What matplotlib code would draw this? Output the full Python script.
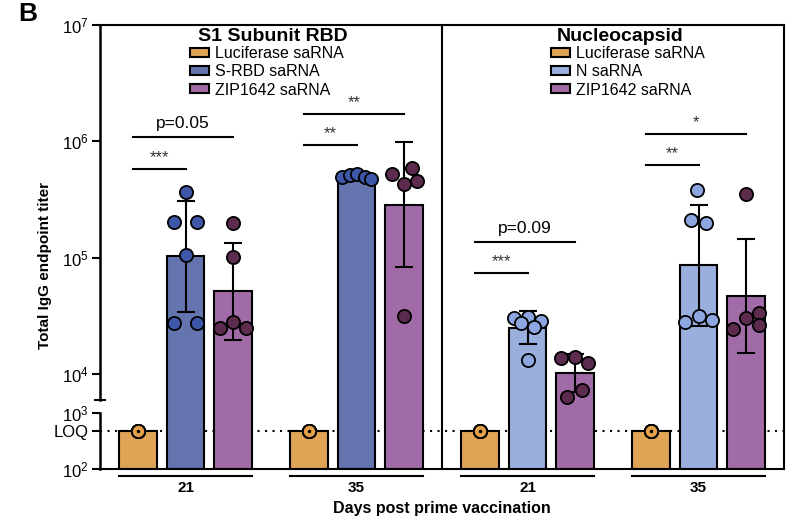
import numpy as np
import matplotlib.pyplot as plt
from matplotlib.patches import Patch
from matplotlib.transforms import blended_transform_factory

plt.rcParams['font.family'] = ['Liberation Sans', 'DejaVu Sans']
plt.rcParams['mathtext.fontset'] = 'custom'
plt.rcParams['mathtext.rm'] = 'Liberation Sans'
plt.rcParams['mathtext.it'] = 'Liberation Sans:italic'
plt.rcParams['mathtext.bf'] = 'Liberation Sans:bold'

# ---- data ----
days = ['21', '35']
loq = 480

s1_title = 'S1 Subunit RBD'
s1_labels = ['Luciferase saRNA', 'S-RBD saRNA', 'ZIP1642 saRNA']
n_title = 'Nucleocapsid'
n_labels = ['Luciferase saRNA', 'N saRNA', 'ZIP1642 saRNA']

# individual animal titers, [day21, day35] for each group
s1_luc = [[loq] * 5, [loq] * 5]
s1_rbd = [[3.67e5, 2.03e5, 2.03e5, 1.05e5, 2.74e4, 2.74e4],
          [4.9e5, 5.1e5, 5.2e5, 4.9e5, 4.7e5]]
s1_zip = [[1.99e5, 1.01e5, 2.5e4, 2.8e4, 2.5e4],
          [5.2e5, 5.9e5, 4.6e5, 4.3e5, 3.15e4]]

n_luc = [[loq] * 5, [loq] * 5]
n_n = [[3.03e4, 3.09e4, 2.86e4, 2.74e4, 2.53e4, 1.32e4],
       [3.8e5, 2.1e5, 2.0e5, 2.8e4, 3.16e4, 2.9e4]]
n_zip = [[1.37e4, 1.4e4, 1.24e4, 6.3e3, 7.3e3],
         [3.5e5, 2.44e4, 3.03e4, 3.34e4, 2.64e4]]

# horizontal jitter of the dots (fraction of bar spacing)
s1_jit = [[[0] * 5, [0] * 5],
          [[0, -0.25, 0.25, 0, -0.25, 0.25], [-0.3, -0.14, 0.02, 0.17, 0.3]],
          [[0, 0, -0.28, 0, 0.28], [-0.26, 0.16, 0.28, 0, 0]]]
n_jit = [[[0] * 5, [0] * 5],
         [[-0.28, 0, 0.28, -0.14, 0.14, 0], [-0.04, -0.15, 0.15, -0.28, 0, 0.28]],
         [[-0.3, 0, 0.28, -0.16, 0.14], [0, -0.28, 0, 0.28, 0.28]]]

# significance brackets: (day index, target group, height, label)
s1_sig = [(0, 1, 5.8e5, '***'), (0, 2, 1.09e6, 'p=0.05'),
          (1, 1, 9.3e5, '**'), (1, 2, 1.72e6, '**')]
n_sig = [(0, 1, 7.4e4, '***'), (0, 2, 1.36e5, 'p=0.09'),
         (1, 1, 6.3e5, '**'), (1, 2, 1.16e6, '*')]

# colours
luc_bar, luc_dot = '#DFA455', '#E2A14A'
rbd_bar, rbd_dot = '#6474AE', '#3E57A8'
zip_bar, zip_dot = '#A06BA6', '#5C2B4E'
n_bar, n_dot = '#9AAFDD', '#8DA6DF'

# ---- broken log axis: piecewise linear in log10 ----
LOG_K = [-10, 2, 3, 3.7765, 7, 20]
U_K = [-12 * 56, 0, 56, 69, 444, 444 + 13 * 116.33]


def fwd(y):
    y = np.asarray(y, dtype=float)
    with np.errstate(divide='ignore', invalid='ignore'):
        ly = np.log10(np.where(y > 0, y, 1e-10))
    return np.interp(ly, LOG_K, U_K)


def inv(u):
    return 10 ** np.interp(np.asarray(u, dtype=float), U_K, LOG_K)


fig = plt.figure(figsize=(8, 5.25), dpi=100)
ax = fig.add_axes([0.125, 0.1067, 0.855, 0.8457])
ax.set_yscale('function', functions=(fwd, inv))
ax.set_ylim(100, 1e7)
ax.set_xlim(-1.8, 12.6)

group_x = [0, 3.6, 7.2, 10.8]
width = 0.78

panels = [
    (s1_luc, s1_rbd, s1_zip, s1_jit, s1_sig, [luc_bar, rbd_bar, zip_bar],
     [luc_dot, rbd_dot, zip_dot]),
    (n_luc, n_n, n_zip, n_jit, n_sig, [luc_bar, n_bar, zip_bar],
     [luc_dot, n_dot, zip_dot]),
]

for p, (g0, g1, g2, jit, sig, bcols, dcols) in enumerate(panels):
    groups = [g0, g1, g2]
    for d in range(2):
        cx = group_x[2 * p + d]
        for g in range(3):
            vals = np.array(groups[g][d], dtype=float)
            lv = np.log10(vals)
            gm = 10 ** lv.mean()
            sd = lv.std(ddof=1)
            x = cx + g - 1
            ax.bar(x, gm - 100, bottom=100, width=width, color=bcols[g],
                   edgecolor='black', linewidth=1.5, zorder=2)
            if sd > 0:
                lo, hi = 10 ** (lv.mean() - sd), 10 ** (lv.mean() + sd)
                ax.errorbar(x, gm, yerr=[[gm - lo], [hi - gm]], fmt='none',
                            ecolor='black', elinewidth=1.5, capsize=6.5,
                            capthick=1.5, zorder=3)
            xs = x + np.array(jit[g][d])
            ax.plot(xs, vals, 'o', ms=9.5, mfc=dcols[g], mec='black', mew=1.3,
                    zorder=4, clip_on=False)
            if sd == 0:
                ax.plot(x, gm, 'o', ms=1.5, color='black', zorder=5)
        # group underline + day label
        tr = blended_transform_factory(ax.transData, ax.transAxes)
        ax.plot([cx - 1 - width / 2, cx + 1 + width / 2], [-0.016, -0.016],
                color='black', lw=1.5, transform=tr, clip_on=False)
        ax.text(cx, -0.043, days[d], transform=tr, ha='center', va='center',
                fontsize=11, fontweight='bold')
    # significance lines
    for d, tg, yv, lab in sig:
        cx = group_x[2 * p + d]
        x0, x1 = cx - 1 - 0.1, cx + tg - 1
        ax.plot([x0, x1], [yv, yv], color='black', lw=1.5, zorder=3)
        if lab.startswith('p'):
            ax.text((x0 + x1) / 2, yv * 1.12, lab, ha='center', va='bottom',
                    fontsize=12.5)
        else:
            ax.text((x0 + x1) / 2, yv * 1.08, lab, ha='center', va='bottom',
                    fontsize=12, color='#333333')

# LOQ dotted line and panel divider
ax.axhline(loq, color='black', lw=1.5, ls=(0, (1, 2.6)), zorder=1)
ax.plot([5.4, 5.4], [100, 1e7], color='black', lw=1.5, zorder=1)

# titles and legends
ax.text(1.84, 0.973, s1_title, transform=blended_transform_factory(ax.transData, ax.transAxes),
        ha='center', va='center', fontsize=14, fontweight='bold')
ax.text(9.15, 0.973, n_title, transform=blended_transform_factory(ax.transData, ax.transAxes),
        ha='center', va='center', fontsize=14, fontweight='bold')

leg_kw = dict(frameon=False, fontsize=11.5, labelspacing=0.21, handlelength=1.2,
              handleheight=0.5, handletextpad=0.35, borderpad=0, borderaxespad=0,
              loc='upper center')
h1 = [Patch(facecolor=c, edgecolor='black', linewidth=1.5)
      for c in [luc_bar, rbd_bar, zip_bar]]
leg1 = ax.legend(h1, s1_labels, bbox_to_anchor=(0.244, 0.953), **leg_kw)
ax.add_artist(leg1)
h2 = [Patch(facecolor=c, edgecolor='black', linewidth=1.5)
      for c in [luc_bar, n_bar, zip_bar]]
ax.legend(h2, n_labels, bbox_to_anchor=(0.772, 0.953), **leg_kw)

# axes styling
ax.set_xticks([])
ax.set_yticks([100, loq, 1e3, 1e4, 1e5, 1e6, 1e7])
ax.set_yticklabels(['$10^2$', 'LOQ', '$10^3$', '$10^4$', '$10^5$', '$10^6$', '$10^7$'],
                   fontsize=12)
ax.minorticks_off()
ax.tick_params(axis='y', length=6, width=1.5, pad=2)
for s in ['top', 'right', 'bottom']:
    ax.spines[s].set_linewidth(1.5)
ax.spines['left'].set_visible(False)

# broken left spine
tl = blended_transform_factory(ax.transAxes, ax.transData)
ybreak = inv(69)
ax.plot([0, 0], [ybreak, 1e7], color='black', lw=1.8, transform=tl, clip_on=False)
ax.plot([0, 0], [100, 1e3], color='black', lw=1.8, transform=tl, clip_on=False)
ax.plot([0], [ybreak], marker='_', ms=9, mew=1.5, color='black', transform=tl,
        clip_on=False)

# axis labels
ax.text(5.4, -0.088, 'Days post prime vaccination',
        transform=blended_transform_factory(ax.transData, ax.transAxes),
        ha='center', va='center', fontsize=11.5, fontweight='bold')
fig.text(45 / 800, 0.495, 'Total IgG endpoint titer', rotation=90, ha='center',
         va='center', fontsize=11, fontweight='bold')
fig.text(28 / 800, 1 - 14 / 525, 'B', ha='center', va='center', fontsize=19,
         fontweight='bold')

fig.savefig('out.png', dpi=100)
